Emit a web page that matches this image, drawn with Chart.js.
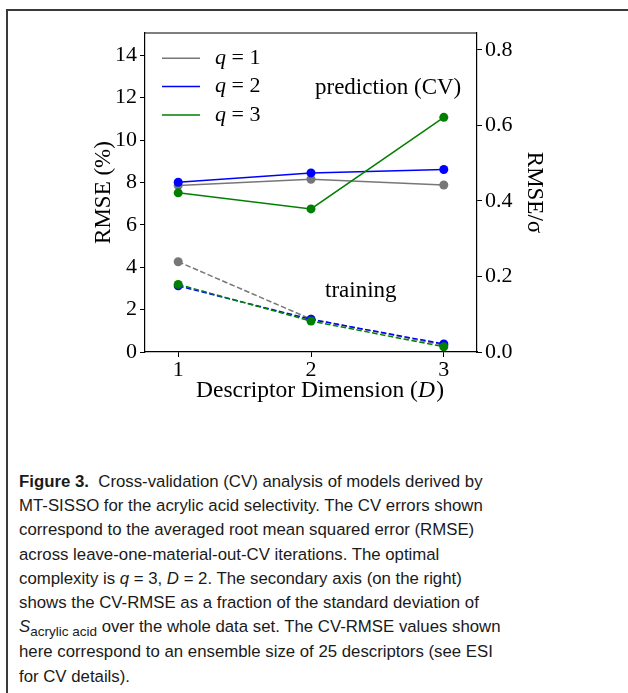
<!DOCTYPE html>
<html>
<head>
<meta charset="utf-8">
<script src="https://cdn.jsdelivr.net/npm/chart.js@4/dist/chart.umd.min.js"></script>
<style>
  html, body { margin: 0; padding: 0; background: #fff; }
  body { width: 628px; height: 693px; position: relative; overflow: hidden; }
  #frame { position: absolute; left: 6px; top: 9px; right: -10px; bottom: -10px;
           border-left: 2px solid #3a3a3a; border-top: 2px solid #3a3a3a; }
  #wrap { position: absolute; left: 0; top: 0; width: 628px; height: 420px; }
  #caption { position: absolute; left: 19px; top: 470px; width: 605px;
             font-family: "Liberation Sans", Arial, sans-serif; font-size: 16.8px;
             line-height: 24.2px; color: #1a1a1a; white-space: nowrap; }
  #caption b { font-weight: bold; }
  .sub { font-size: 13.5px; position: relative; top: 4px; }
</style>
</head>
<body>
<div id="frame"></div>
<div id="wrap"><canvas id="cvChart" width="628" height="420"></canvas></div>
<div id="caption">
<b>Figure 3.</b>&nbsp; Cross-validation (CV) analysis of models derived by<br>
MT-SISSO for the acrylic acid selectivity. The CV errors shown<br>
correspond to the averaged root mean squared error (RMSE)<br>
across leave-one-material-out-CV iterations. The optimal<br>
complexity is <i>q</i> = 3, <i>D</i> = 2. The secondary axis (on the right)<br>
shows the CV-RMSE as a fraction of the standard deviation of<br>
<i>S</i><span class="sub">acrylic acid</span> over the whole data set. The CV-RMSE values shown<br>
here correspond to an ensemble size of 25 descriptors (see ESI<br>
for CV details).
</div>
<script>
// descriptor dimension D
const dims = [1, 2, 3];

// CV prediction RMSE (%)
const cvQ1 = [7.86, 8.15, 7.88];
const cvQ2 = [8.01, 8.45, 8.61];
const cvQ3 = [7.51, 6.75, 11.07];

// training RMSE (%)
const trQ1 = [4.26, 1.55, 0.33];
const trQ2 = [3.12, 1.54, 0.38];
const trQ3 = [3.19, 1.46, 0.25];

const qLabels = ['1', '2', '3'];
const qColors = ['#777777', '#0000ff', '#008000'];

const leftTicks = [0, 2, 4, 6, 8, 10, 12, 14];
const rightTicks = [0, 0.2, 0.4, 0.6, 0.8];
const xTicks = [1, 2, 3];

const serif = '"Liberation Serif", "Times New Roman", serif';

function pts(vals) {
    return dims.map((d, i) => ({x: d, y: vals[i]}));
}

function mkSet(vals, qi, dashed) {
    return {
        label: 'q = ' + qLabels[qi],
        data: pts(vals),
        borderColor: qColors[qi],
        backgroundColor: qColors[qi],
        pointBackgroundColor: qColors[qi],
        borderWidth: 1.5,
        borderDash: dashed ? [5.5, 2.5] : [],
        pointRadius: 4.5,
        pointBorderWidth: 0,
        order: 3 - qi,
        yAxisID: 'y',
        legendShow: !dashed
    };
}

const datasets = [
    mkSet(cvQ1, 0, false), mkSet(cvQ2, 1, false), mkSet(cvQ3, 2, false),
    mkSet(trQ1, 0, true), mkSet(trQ2, 1, true), mkSet(trQ3, 2, true)
];

// top spine, legend inside the axes, notes and x title (italic D)
const extras = {
    id: 'extras',
    afterDraw(chart) {
        const c = chart.ctx, a = chart.chartArea;
        c.save();
        c.strokeStyle = '#000';
        c.lineWidth = 1.2;
        c.beginPath();
        c.moveTo(a.left, a.top);
        c.lineTo(a.right, a.top);
        c.stroke();

        // legend
        c.textBaseline = 'middle';
        let k = 0;
        chart.data.datasets.forEach(ds => {
            if (!ds.legendShow) return;
            const y = a.top + 25.3 + k * 28.3;
            c.strokeStyle = ds.borderColor;
            c.lineWidth = 1.5;
            c.beginPath();
            c.moveTo(a.left + 17, y);
            c.lineTo(a.left + 55, y);
            c.stroke();
            c.fillStyle = '#000';
            c.font = 'italic 22px ' + serif;
            c.fillText('q', a.left + 70, y);
            const w = c.measureText('q').width;
            c.font = '22px ' + serif;
            c.fillText(' = ' + ds.label.split('= ')[1], a.left + 70 + w, y);
            k++;
        });

        c.font = '23px ' + serif;
        c.fillStyle = '#000';
        c.fillText('prediction (CV)', a.left + 170, a.top + 55);
        c.fillText('training', a.left + 180, a.top + 258);

        // x axis title
        c.textBaseline = 'alphabetic';
        const parts = [['Descriptor Dimension (', ''], ['D', 'italic '], [')', '']];
        let x = a.left + 51;
        const yb = a.bottom + 45;
        parts.forEach(p => {
            c.font = p[1] + '23.5px ' + serif;
            c.fillText(p[0], x, yb);
            x += c.measureText(p[0]).width + (p[1] ? 1.5 : 0);
        });
        c.restore();
    }
};

new Chart(document.getElementById('cvChart'), {
    type: 'line',
    data: {datasets: datasets},
    options: {
        responsive: false,
        animation: false,
        layout: {padding: {left: 86, right: 76.5, top: 33, bottom: 12.5}},
        plugins: {legend: {display: false}, tooltip: {enabled: false}},
        scales: {
            x: {
                type: 'linear',
                min: 0.75,
                max: 3.25,
                afterBuildTicks: s => { s.ticks = xTicks.map(v => ({value: v})); },
                afterFit: s => { s.height = 55.5; s.paddingLeft = 0; s.paddingRight = 0; },
                grid: {drawOnChartArea: false, tickLength: 5, tickColor: '#000'},
                border: {color: '#000', width: 1.2},
                ticks: {color: '#000', padding: 0, font: {family: serif, size: 22}},
                title: {display: false}
            },
            y: {
                position: 'left',
                min: 0,
                max: 15.05,
                afterBuildTicks: s => { s.ticks = leftTicks.map(v => ({value: v})); },
                afterFit: s => { s.width = 59; s.paddingTop = 0; s.paddingBottom = 0; },
                grid: {drawOnChartArea: false, tickLength: 5, tickColor: '#000'},
                border: {color: '#000', width: 1.2},
                ticks: {color: '#000', padding: 3, font: {family: serif, size: 22}},
                title: {display: true, text: 'RMSE (%)', color: '#000',
                        padding: 4, font: {family: serif, size: 23}}
            },
            y2: {
                type: 'linear',
                position: 'right',
                min: 0,
                max: 0.845,
                afterBuildTicks: s => { s.ticks = rightTicks.map(v => ({value: v})); },
                afterFit: s => { s.width = 74.5; s.paddingTop = 0; s.paddingBottom = 0; },
                grid: {drawOnChartArea: false, tickLength: 5, tickColor: '#000'},
                border: {color: '#000', width: 1.2},
                ticks: {color: '#000', padding: 3, font: {family: serif, size: 22},
                        callback: v => v.toFixed(1)},
                title: {display: true, text: 'RMSE/σ', color: '#000',
                        padding: 4, font: {family: serif, size: 23}}
            }
        }
    },
    plugins: [extras]
});
</script>
</body>
</html>
